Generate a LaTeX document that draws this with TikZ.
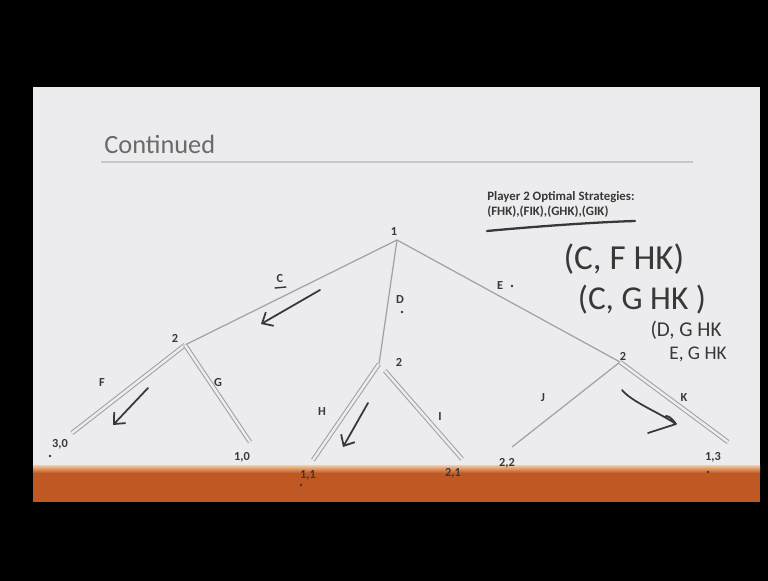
\documentclass[tikz,border=0pt]{standalone}
\usepackage{fontspec}
\setmainfont{Carlito}
\usetikzlibrary{positioning,arrows.meta,calc}

\definecolor{slidebg}{HTML}{ECECEE}
\definecolor{treeline}{HTML}{A2A2A2}
\definecolor{inkgray}{HTML}{383838}
\definecolor{titlegray}{HTML}{6A6A6A}
\definecolor{barorange}{HTML}{BF5823}
\definecolor{barlight}{HTML}{F6CDA0}

\tikzset{
  move/.style={draw=treeline, line width=0.7pt},
  best/.style={draw=treeline, line width=0.6pt, double=slidebg, double distance=1.4pt},
  lbl/.style={font=\bfseries\fontsize{7}{8}\selectfont, text=inkgray, inner sep=0pt},
  hand/.style={font=\fontsize{#1}{#1}\selectfont, text=inkgray, inner sep=0pt},
  ink/.style={draw=inkgray, line width=1pt, line cap=round, line join=round},
  inkarrow/.style={ink, -{Straight Barb[length=5pt,width=9pt]}},
}

\begin{document}
\begin{tikzpicture}[x=0.02cm, y=-0.02cm]
    % background and slide
    \fill[black] (0,0) rectangle (768,581);
    \useasboundingbox (0,0) rectangle (768,581);
    \fill[slidebg] (33,87) rectangle (760,502);

    % title
    \node[anchor=west, font=\fontsize{15}{17}\selectfont, text=titlegray, inner sep=0pt] (title) at (104,144) {Continued};
    \draw[line width=1.2pt, draw=black!22] (101,162) -- (693,162);

    % strategies box
    \node[anchor=west, font=\bfseries\fontsize{7.3}{8.5}\selectfont, text=inkgray, inner sep=0pt, align=left] (strat) at (487,204)
        {Player 2 Optimal Strategies:\\(FHK),(FIK),(GHK),(GIK)};
    \draw[ink, line width=1.3pt] (487,231) .. controls (540,226) and (600,222) .. (635,221);

    % tree nodes
    \coordinate (root) at (397,240);
    \coordinate (left) at (185,345);
    \coordinate (mid) at (379,364);
    \coordinate (right) at (620,362);
    \coordinate (leafF) at (72,433);
    \coordinate (leafG) at (250,442);
    \coordinate (leafH) at (313,460);
    \coordinate (leafI) at (462,459);
    \coordinate (leafJ) at (512,447);
    \coordinate (leafK) at (728,442);

    % moves of player 1
    \draw[move] (root) -- (left);
    \draw[move] (root) -- (mid);
    \draw[move] (root) -- (right);

    % moves of player 2
    \draw[best] (left) -- (leafF);
    \draw[best] (left) -- (leafG);
    \draw[best] (mid) -- (leafH);
    \draw[best] ($(mid)!0.07!(leafI)$) -- (leafI);
    \draw[move] (right) -- (leafJ);
    \draw[best] (right) -- (leafK);

    % orange footer bar
    \shade[top color=barlight, bottom color=barorange] (33,465) rectangle (760,473);
    \fill[barorange] (33,473) rectangle (760,502);

    % player labels
    \node[lbl] (p1) at (394,232) {1};
    \node[lbl] (p2a) at (175,338) {2};
    \node[lbl] (p2b) at (399,362) {2};
    \node[lbl] (p2c) at (623,356) {2};

    % action labels
    \node[lbl] (actC) at (280,279) {C};
    \draw[ink, line width=0.8pt] (275,288) -- (286,287);
    \node[lbl] (actD) at (400,300) {D};
    \node[lbl] (actE) at (500,286) {E};
    \node[lbl] (actF) at (102,383) {F};
    \node[lbl] (actG) at (218,383) {G};
    \node[lbl] (actH) at (322,412) {H};
    \node[lbl] (actI) at (440,417) {I};
    \node[lbl] (actJ) at (543,398) {J};
    \node[lbl] (actK) at (684,398) {K};

    % payoffs
    \node[lbl] (payF) at (60,444) {3,0};
    \node[lbl] (payG) at (242,457) {1,0};
    \node[lbl] (payH) at (308,475) {1,1};
    \node[lbl] (payI) at (453,473) {2,1};
    \node[lbl] (payJ) at (507,463) {2,2};
    \node[lbl] (payK) at (713,457) {1,3};

    % stray pen dots
    \fill[inkgray] (402,312) circle (1.3) (512,286) circle (1.3) (50,456) circle (1.3)
        (301,485) circle (1.3) (708,472) circle (1.3);

    % handwritten arrows
    \coordinate (inkCa) at (320,290);
    \coordinate (inkCb) at (261,324);
    \draw[inkarrow] (inkCa) -- (inkCb);
    \coordinate (inkFa) at (148,388);
    \coordinate (inkFb) at (113,425);
    \draw[inkarrow] (inkFa) -- (inkFb);
    \coordinate (inkHa) at (368,403);
    \coordinate (inkHb) at (343,447);
    \draw[inkarrow] (inkHa) -- (inkHb);
    \coordinate (inkKa) at (622,390);
    \coordinate (inkKb) at (676,424);
    \draw[ink] (inkKa) .. controls (632,402) and (658,412) .. (inkKb)
        .. controls (671,417) and (668,416) .. (666,416)
        (inkKb) -- (648,433);

    % handwritten notes
    \node[hand=20] (noteA) at (624,259) {(C, F HK)};
    \node[hand=19] (noteB) at (642,300) {(C, G HK )};
    \node[hand=12] (noteC) at (686,330) {(D, G HK};
    \node[hand=11] (noteD) at (698,354) {E, G HK};
\end{tikzpicture}
\end{document}
